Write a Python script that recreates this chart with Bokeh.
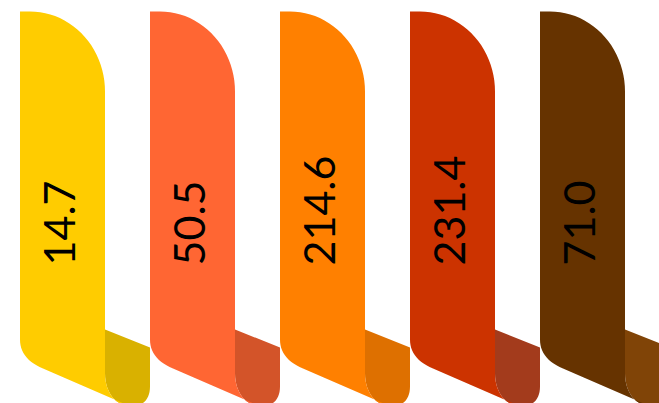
import numpy as np
from bokeh.plotting import figure
from bokeh.models import Range1d, ColumnDataSource
from bokeh.core.properties import value
from bokeh.embed import file_html
from bokeh.resources import INLINE

# ---- data ----
categories = ["Item 1", "Item 2", "Item 3", "Item 4", "Item 5"]
values = [14.7, 50.5, 214.6, 231.4, 71.0]
labels = ["14.7", "50.5", "214.6", "231.4", "71.0"]
colors = ["#FFCC00", "#FF6633", "#FF8000", "#CC3300", "#663300"]
fold_colors = ["#D9B100", "#D35429", "#DE7000", "#A33B1C", "#804407"]

# ---- layout constants (pixels of the 659x403 reference) ----
REF_W = 659
REF_H = 403
SLOT = 130.0          # pixels per category slot
CENTER0 = 62.0        # screen x of first ribbon centre
W = 85.0              # ribbon width
T = 11.0              # ribbon top


def xd(i, dx):
    """category index + offset from ribbon left (px) -> data x"""
    return i + (dx - W / 2) / SLOT


def yd(y):
    return REF_H - y


def qbez(p0, p1, p2, n=14):
    t = np.linspace(0, 1, n)
    x = (1 - t) ** 2 * p0[0] + 2 * (1 - t) * t * p1[0] + t ** 2 * p2[0]
    y = (1 - t) ** 2 * p0[1] + 2 * (1 - t) * t * p1[1] + t ** 2 * p2[1]
    return list(zip(x, y))


def curl_curve():
    ph = np.linspace(0, np.pi / 2, 14)
    return [(106 - 21 * np.cos(a), T + 362 + 31 * np.sin(a)) for a in ph]


def light_shape():
    pts = [(0.0, T)]
    th = np.linspace(0, np.pi / 2, 24)
    pts += [(10 + 75 * np.sin(a), T + 80 - 80 * np.cos(a)) for a in th]
    pts.append((W, T + 362))
    pts += curl_curve()
    pts.append((23, T + 357))
    pts += qbez((23, T + 357), (0, T + 347.5), (0, T + 328))
    return pts


def fold_shape():
    pts = [(W, T + 318), (130, T + 336), (130, T + 375)]
    pts += qbez((130, T + 375), (130, T + 394), (110, T + 396))
    pts += curl_curve()[::-1]
    return pts


lx, ly, fx, fy = [], [], [], []
for i in range(len(values)):
    L = light_shape()
    F = fold_shape()
    lx.append([xd(i, p[0]) for p in L])
    ly.append([yd(p[1]) for p in L])
    fx.append([xd(i, p[0]) for p in F])
    fy.append([yd(p[1]) for p in F])

fold_src = ColumnDataSource(dict(xs=fx, ys=fy, color=fold_colors))
light_src = ColumnDataSource(dict(xs=lx, ys=ly, color=colors))

idx = list(range(len(values)))
text_src = ColumnDataSource(dict(
    x=[i - 3 / SLOT for i in idx],
    y=[yd(265)] * len(idx),
    text=labels,
))

p = figure(width=REF_W, height=REF_H, output_backend="svg", toolbar_location=None,
           x_range=Range1d((0 - CENTER0) / SLOT, (REF_W - CENTER0) / SLOT),
           y_range=Range1d(yd(REF_H), yd(0)),
           x_axis_location=None, y_axis_location=None, min_border=0)
p.grid.visible = False
p.outline_line_color = None
p.background_fill_color = "white"
p.border_fill_color = "white"

p.patches("xs", "ys", source=fold_src, fill_color="color", line_color=None)
p.patches("xs", "ys", source=light_src, fill_color="color", line_color=None)
p.text("x", "y", text="text", source=text_src, angle=np.pi / 2,
       text_align="left", text_baseline="alphabetic",
       text_font=value("Lato"), text_font_size="43px", text_color="black")

open("out.html", "w").write(file_html(p, INLINE))
